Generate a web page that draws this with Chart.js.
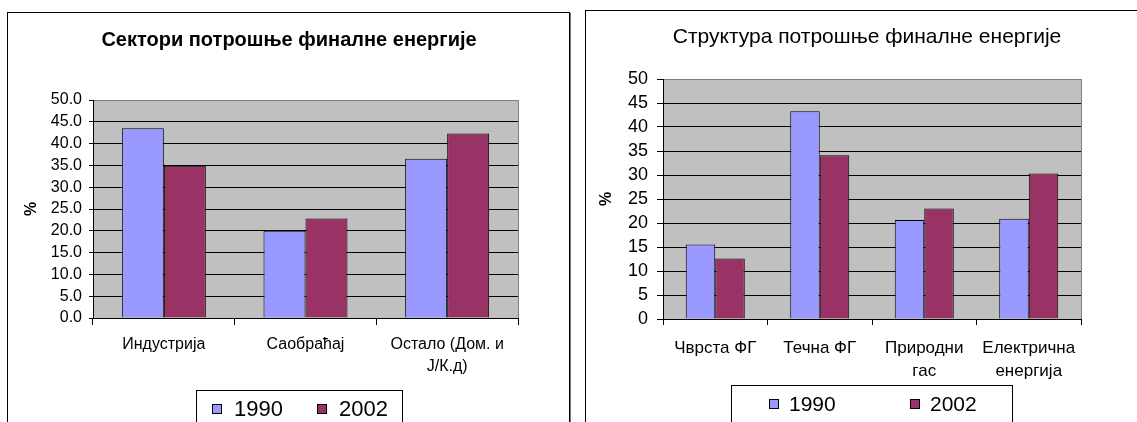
<!DOCTYPE html>
<html><head><meta charset="utf-8">
<script src="https://cdn.jsdelivr.net/npm/chart.js@4.4.0/dist/chart.umd.min.js"></script>
<style>
html,body{margin:0;padding:0;background:#fff;overflow:hidden;width:1137px;height:422px;position:relative}
.box{position:absolute;border:1px solid #000;box-shadow:1px 1px 0 #777;background:#fff}
canvas{position:absolute}
</style></head><body>
<div class="box" style="left:7px;top:12px;width:561px;height:440px"></div>
<div class="box" style="left:585px;top:10px;width:561px;height:440px"></div>
<canvas id="c1" width="560" height="420" style="left:8px;top:13px"></canvas>
<canvas id="c2" width="560" height="420" style="left:586px;top:11px"></canvas>
<script>
// ---- data ----
const seriesLabels = ['1990', '2002'];
const sectorCategories = ['Индустрија', 'Саобраћај', ['Остало (Дом. и', 'Ј/К.д)']];
const sector1990 = [43.5, 20.0, 36.5];
const sector2002 = [34.9, 22.8, 42.3];
const structureCategories = ['Чврста ФГ', 'Течна ФГ', ['Природни', 'гас'], ['Електрична', 'енергија']];
const structure1990 = [15.5, 43.3, 20.6, 20.9];
const structure2002 = [12.6, 34.1, 23.0, 30.3];
const yMin = 0, yMax = 50, yStep = 5;

const FONT = 'Liberation Sans';
const colors = ['#9999FF', '#993366'];

const plotBg = {
  id: 'plotBg',
  beforeDraw(chart, args, o) {
    const {ctx, chartArea: a} = chart;
    ctx.save();
    ctx.fillStyle = o.color;
    ctx.fillRect(a.left, a.top, a.right - a.left, a.bottom - a.top);
    ctx.strokeStyle = o.border; ctx.lineWidth = 1;
    ctx.strokeRect(Math.round(a.left) + 0.5, Math.round(a.top) + 0.5, Math.round(a.right - a.left), Math.round(a.bottom - a.top));
    ctx.restore();
  }
};
const boxLegend = {
  id: 'boxLegend',
  afterDraw(chart, args, o) {
    const ctx = chart.ctx;
    ctx.save();
    ctx.fillStyle = '#fff';
    ctx.fillRect(o.left, o.top, o.width, o.height);
    ctx.strokeStyle = o.borderColor; ctx.lineWidth = 1;
    ctx.strokeRect(o.left + 0.5, o.top + 0.5, o.width, o.height);
    ctx.font = o.font; ctx.textBaseline = 'middle'; ctx.textAlign = 'left';
    chart.data.datasets.forEach((ds, i) => {
      const x = o.itemX[i], s = o.square;
      const y = Math.round(o.y - s / 2);
      ctx.fillStyle = ds.backgroundColor; ctx.fillRect(x, y, s, s);
      ctx.strokeStyle = '#000'; ctx.strokeRect(x + 0.5, y + 0.5, s - 1, s - 1);
      ctx.fillStyle = o.color; ctx.fillText(ds.label, x + s + o.gap, o.y + 1);
    });
    ctx.restore();
  }
};

function datasets(a, b) {
  return [
    {label: seriesLabels[0], data: a, backgroundColor: colors[0], borderColor: '#000', borderWidth: 1},
    {label: seriesLabels[1], data: b, backgroundColor: colors[1], borderColor: '#000', borderWidth: 1}
  ];
}

function makeChart(id, p) {
  return new Chart(document.getElementById(id), {
    type: 'bar',
    data: {labels: p.labels, datasets: datasets(p.a, p.b)},
    options: {
      responsive: false, animation: false, devicePixelRatio: 1,
      layout: {padding: p.pad},
      datasets: {bar: {barPercentage: 1, categoryPercentage: p.catPct}},
      plugins: {
        legend: {display: false}, tooltip: {enabled: false},
        title: {display: true, text: p.title, color: '#000',
          font: {family: FONT, size: p.titleSize, weight: p.titleWeight, lineHeight: 1.2},
          padding: p.titlePad},
        plotBg: {color: '#C0C0C0', border: '#808080'},
        boxLegend: p.legend
      },
      scales: {
        x: {
          grid: {offset: true, drawOnChartArea: false, drawTicks: true, tickLength: p.xTick, color: '#000'},
          border: {display: true, color: '#000'},
          ticks: {color: '#000', font: {family: FONT, size: p.xFont, lineHeight: p.xLine / p.xFont}, padding: p.xPad, maxRotation: 0, autoSkip: false},
          afterFit(s) { s.height = 60; }
        },
        y: {
          min: yMin, max: yMax,
          ticks: {stepSize: yStep, autoSkip: false, color: '#000', font: {family: FONT, size: p.yFont}, padding: p.yPad,
            callback: v => p.dec ? Number(v).toFixed(1) : String(v)},
          grid: {color: c => (c.tick && c.tick.value === yMax) ? '#808080' : '#000', tickColor: '#000', tickLength: p.yTick},
          border: {display: true, color: '#000'},
          title: {display: true, text: '%', color: '#000', font: {family: FONT, size: 16, weight: 'bold', lineHeight: 1.2}, padding: {top: p.yTitlePad, bottom: 0}},
          afterFit(s) { s.width = p.yW; }
        },
        ySpacer: {
          type: 'linear', position: 'right', display: true,
          grid: {display: false, drawTicks: false}, border: {display: false},
          ticks: {display: false}, title: {display: false},
          afterFit(s) { s.width = p.R; }
        }
      }
    },
    plugins: [plotBg, boxLegend]
  });
}

makeChart('c1', {
  labels: sectorCategories, a: sector1990, b: sector2002,
  pad: {left: 40, right: 38, top: 0, bottom: 55}, R: 12,
  catPct: 0.593,
  title: 'Сектори потрошње финалне енергије', titleSize: 20, titleWeight: 'bold',
  titlePad: {top: 15, bottom: 48},
  xTick: 7, xFont: 16, xLine: 22, xPad: 9,
  yFont: 16, yPad: 7, yTick: 4, dec: true, yW: 45, yTitlePad: -25.6,
  legend: {left: 188, top: 377, width: 206, height: 60, itemX: [204, 309], y: 396, square: 10, gap: 12,
    font: '22px "Liberation Sans"', color: '#000', borderColor: '#000'}
});

makeChart('c2', {
  labels: structureCategories, a: structure1990, b: structure2002,
  pad: {left: 39, right: 37, top: 0, bottom: 52}, R: 28,
  catPct: 0.565,
  title: 'Структура потрошње финалне енергије', titleSize: 21, titleWeight: 'normal',
  titlePad: {top: 13.4, bottom: 29.4},
  xTick: 6, xFont: 17, xLine: 23, xPad: 11.5,
  yFont: 18, yPad: 9, yTick: 6, dec: false, yW: 38, yTitlePad: -27.6,
  legend: {left: 145, top: 374, width: 281, height: 60, itemX: [183, 324], y: 393, square: 10, gap: 10,
    font: '21px "Liberation Sans"', color: '#000', borderColor: '#000'}
});
</script>
</body></html>
